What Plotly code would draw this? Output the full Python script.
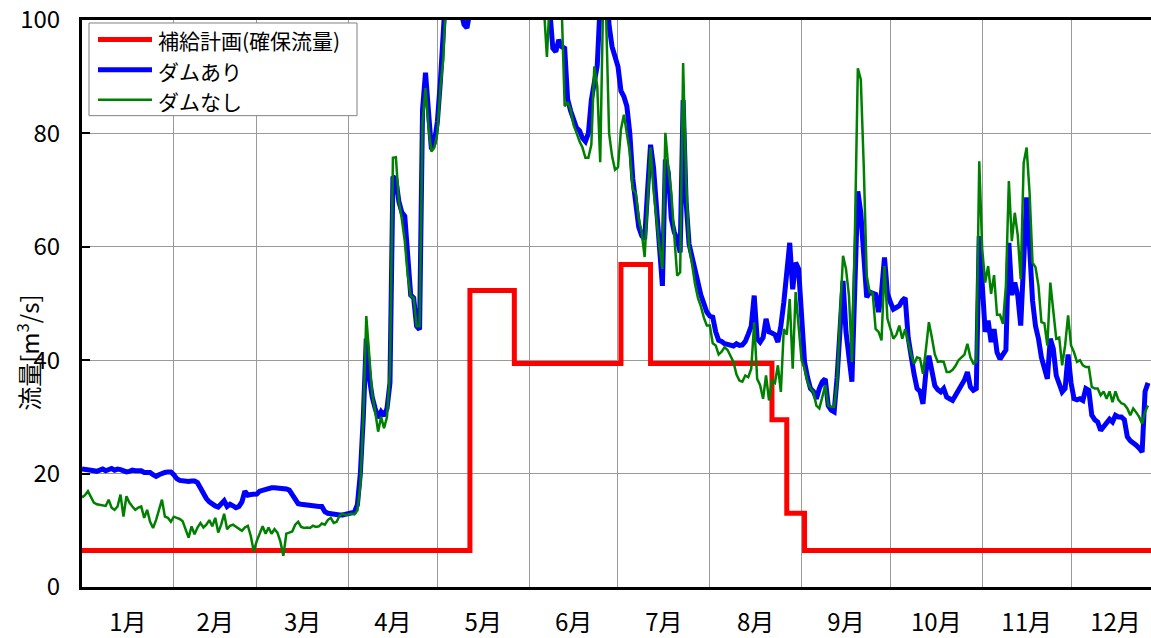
import pandas as pd
import plotly.graph_objects as go

# Daily flow [m3/s], day 0 = 1 Jan, one value per day up to day 360 (27 Dec)
flow_jan_with = [20.8, 20.8, 20.7, 20.6, 20.5, 20.4, 20.6, 20.8, 20.5, 20.7,
                 20.9, 20.6, 20.8, 20.7, 20.5, 20.3, 20.4, 20.6, 20.5, 20.6,
                 20.5, 20.2, 20.3, 20.2, 19.8, 19.5, 19.8, 20.1, 20.2, 20.3, 20.3]
flow_feb_with = [19.8, 19.1, 18.8, 18.7, 18.7, 18.6, 18.7, 18.7, 18.4, 17.5,
                 16.3, 15.6, 15.0, 14.6, 14.3, 14.1, 14.6, 15.2, 14.2, 14.6,
                 14.3, 14.0, 14.2, 15.0, 16.9, 16.2, 16.3, 16.4]
flow_mar_with = [16.4, 16.9, 17.1, 17.3, 17.4, 17.5, 17.5, 17.5, 17.5, 17.4,
                 17.3, 17.1, 16.2, 15.3, 14.7, 14.6, 14.5, 14.6, 14.4, 14.2,
                 14.3, 14.2, 14.2, 13.3, 13.0, 12.9, 12.8, 12.6, 12.7, 12.7, 12.8]
flow_apr_with = [12.8, 12.9, 13.2, 14.5, 20.0, 30.0, 43.8, 37.0, 33.5, 31.5,
                 29.8, 30.9, 30.2, 31.5, 36.0, 72.4, 71.9, 68.0, 66.1, 65.4,
                 59.0, 51.5, 51.0, 46.0, 45.4, 84.2, 90.7, 84.2, 77.2, 78.4]
flow_may_with = [82.0, 89.0, 102, 110, 118, 124, 118, 110, 101.5, 99.2,
                 98.6, 101.5, 110, 120, 128, 134, 128, 124, 120, 126,
                 132, 138, 130, 125, 120, 116, 122, 128, 130, 124, 118]
flow_jun_with = [118, 114, 116, 110, 106, 104, 103, 101.5, 95.0, 94.4,
                 96.5, 95.3, 95.0, 86.0, 84.0, 82.4, 81.0, 80.5, 79.2, 78.6,
                 80.0, 85.9, 89.5, 92.0, 103, 110, 106, 99.0, 95.3, 93.7]
flow_jul_with = [91.8, 87.5, 86.5, 84.8, 80.0, 72.0, 68.0, 63.5, 62.0, 61.3,
                 70.0, 78.0, 74.0, 66.0, 58.0, 53.1, 75.4, 73.1, 65.0, 62.6,
                 61.3, 59.0, 85.9, 68.0, 60.5, 58.0, 55.5, 54.0, 51.5, 50.0, 48.5]
flow_aug_with = [47.8, 47.6, 45.0, 43.5, 43.3, 42.9, 42.8, 42.6, 42.5, 42.9,
                 42.6, 42.7, 43.3, 44.6, 46.0, 51.4, 43.8, 43.2, 44.0, 47.3,
                 45.0, 44.8, 44.5, 43.2, 46.0, 50.2, 54.9, 60.7, 52.5, 57.2, 56.1]
flow_sep_with = [47.9, 39.7, 37.0, 35.0, 34.5, 33.2, 35.0, 36.2, 36.7, 32.0,
                 31.2, 30.9, 37.0, 45.0, 54.0, 45.0, 40.0, 36.2, 53.1, 69.8,
                 66.0, 56.6, 51.1, 52.0, 51.8, 51.6, 48.5, 52.0, 58.1, 51.8]
flow_oct_with = [50.2, 49.0, 49.3, 49.6, 50.5, 51.0, 44.0, 40.5, 37.5, 35.0,
                 34.5, 32.3, 38.0, 40.8, 38.5, 35.5, 34.8, 34.4, 35.0, 33.5,
                 33.2, 32.9, 33.8, 34.7, 35.3, 36.5, 37.9, 35.3, 34.7, 35.0, 61.9]
flow_nov_with = [52.0, 45.0, 47.0, 43.2, 45.5, 41.4, 40.2, 41.0, 41.8, 60.7,
                 51.5, 53.7, 51.4, 46.1, 58.4, 68.7, 60.0, 50.5, 46.0, 43.8,
                 40.5, 38.5, 36.7, 43.8, 42.0, 37.3, 35.5, 34.4, 35.0, 41.0]
flow_dec_with = [36.0, 33.2, 33.0, 33.2, 32.9, 35.0, 34.7, 30.3, 29.5, 29.1,
                 27.6, 28.3, 29.0, 29.6, 29.1, 30.3, 30.0, 30.0, 29.5, 26.5,
                 25.8, 25.5, 25.0, 24.5, 23.8, 34.5, 36.0]

flow_jan_without = [15.8, 16.2, 16.9, 15.8, 14.9, 14.6, 14.5, 14.5, 14.3, 15.4,
                    14.0, 13.6, 14.2, 16.3, 12.4, 16.0, 14.9, 14.2, 13.6, 14.0,
                    14.2, 12.2, 13.6, 11.5, 10.4, 11.8, 13.5, 15.4, 12.4, 12.2, 11.5]
flow_feb_without = [12.4, 12.2, 12.0, 11.6, 10.0, 8.7, 10.7, 9.3, 10.5, 11.3,
                    10.5, 11.0, 11.8, 10.7, 12.2, 9.6, 11.0, 12.9, 10.2, 10.8,
                    11.0, 10.6, 10.3, 9.9, 10.5, 10.8, 9.0, 6.3]
flow_mar_without = [8.1, 9.5, 10.7, 9.4, 10.5, 9.4, 10.2, 9.6, 8.0, 5.5,
                    9.4, 9.6, 9.8, 11.0, 11.5, 10.6, 10.4, 10.5, 10.4, 10.8,
                    10.6, 10.7, 11.2, 11.0, 11.8, 12.2, 11.3, 11.5, 12.6, 12.9, 12.7]
flow_apr_without = [12.8, 12.9, 12.8, 13.5, 18.0, 30.0, 47.8, 40.0, 34.0, 31.0,
                    27.4, 30.0, 28.0, 30.0, 38.0, 75.7, 75.8, 68.0, 64.9, 61.0,
                    55.0, 51.3, 51.0, 46.0, 46.0, 82.0, 88.0, 81.2, 76.8, 77.5]
flow_may_without = [80.0, 88.0, 93.0, 105, 118, 128, 120, 112, 106, 103,
                    104, 108, 116, 126, 134, 140, 132, 126, 122, 128,
                    135, 140, 132, 126, 121, 118, 124, 130, 132, 126, 120]
flow_jun_without = [118, 114, 116, 110, 106, 102, 93.5, 104, 108, 112,
                    106, 102, 84.8, 85.5, 84.2, 81.5, 80.1, 78.6, 77.5, 75.7,
                    75.7, 78.0, 91.8, 88.3, 74.9, 104, 100.5, 80.0, 76.0, 73.6]
flow_jul_without = [74.0, 80.7, 83.3, 80.0, 76.6, 70.1, 69.5, 65.0, 62.6, 58.2,
                    68.0, 77.5, 70.0, 64.3, 60.0, 56.1, 80.1, 74.0, 69.6, 62.0,
                    54.9, 55.5, 92.4, 72.0, 60.0, 57.0, 53.5, 51.0, 49.5, 47.5, 46.1]
flow_aug_without = [46.1, 43.0, 42.6, 41.0, 41.5, 42.3, 41.8, 40.8, 39.7, 37.5,
                    36.4, 36.2, 37.3, 37.0, 38.5, 46.7, 36.7, 35.6, 33.2, 37.3,
                    32.9, 36.4, 36.0, 39.1, 34.4, 45.5, 44.5, 50.8, 38.5, 52.0, 46.1]
flow_sep_without = [40.0, 38.5, 36.2, 35.0, 34.4, 32.0, 31.5, 33.5, 35.6, 32.0,
                    31.8, 31.8, 36.0, 48.0, 58.4, 56.1, 51.4, 39.7, 62.0, 91.5,
                    89.5, 74.2, 54.9, 52.0, 51.9, 45.5, 45.0, 43.5, 56.6, 47.3]
flow_oct_without = [45.5, 43.8, 44.5, 46.1, 43.8, 45.5, 43.2, 41.0, 39.4, 40.5,
                    40.3, 37.6, 42.0, 46.7, 44.0, 41.0, 39.7, 39.8, 39.7, 37.9,
                    37.9, 38.3, 39.0, 40.0, 40.5, 41.0, 42.9, 40.5, 39.4, 39.7, 75.1]
flow_nov_without = [59.6, 53.7, 56.6, 51.7, 55.0, 48.0, 48.0, 46.4, 53.1, 71.6,
                    61.0, 66.0, 62.0, 54.3, 74.8, 77.5, 69.5, 57.2, 56.4, 53.1,
                    46.7, 46.5, 42.6, 53.7, 48.5, 43.8, 44.0, 39.1, 42.6, 47.9]
flow_dec_without = [42.6, 41.4, 39.7, 40.0, 39.1, 38.8, 38.8, 35.3, 35.0, 35.0,
                    33.8, 34.5, 33.2, 34.5, 32.6, 34.5, 33.0, 32.4, 32.2, 31.5,
                    30.3, 31.5, 30.8, 30.0, 28.8, 30.9, 32.0]

# Supply plan (secured flow): step values starting on the given day
plan_days = [0, 131, 146, 182, 192, 233, 238, 244, 361]
plan_flow = [6.45, 52.3, 39.4, 56.9, 39.4, 29.5, 13.0, 6.45, 6.45]

month_order = ["jan", "feb", "mar", "apr", "may", "jun",
               "jul", "aug", "sep", "oct", "nov", "dec"]
flow_with = sum((globals()[f"flow_{m}_with"] for m in month_order), [])
flow_without = sum((globals()[f"flow_{m}_without"] for m in month_order), [])

start = pd.Timestamp("2021-01-01")
dates = start + pd.to_timedelta(range(len(flow_with)), unit="D")
plan_dates = start + pd.to_timedelta(plan_days, unit="D")

FONT = "Noto Sans CJK JP"
RED, BLUE, GREEN = "#ff0000", "#0000ff", "#008000"

fig = go.Figure()
fig.add_trace(go.Scatter(x=plan_dates, y=plan_flow, mode="lines", name="補給計画(確保流量)",
                         line=dict(color=RED, width=5, shape="hv"), showlegend=False))
fig.add_trace(go.Scatter(x=dates, y=flow_with, mode="lines", name="ダムあり",
                         line=dict(color=BLUE, width=5), showlegend=False))
fig.add_trace(go.Scatter(x=dates, y=flow_without, mode="lines", name="ダムなし",
                         line=dict(color=GREEN, width=2.5), showlegend=False))

W, H = 1151, 638
L, R, T, B = 82, 0, 20, 49
pw, ph = W - L - R, H - T - B


def px(x):
    return (x - L) / pw


def py(y):
    return (H - B - y) / ph


# Legend box drawn in paper coordinates
shapes = [dict(type="rect", xref="paper", yref="paper",
               x0=px(89), x1=px(357), y0=py(116), y1=py(23),
               line=dict(color="#808080", width=1), fillcolor="white", layer="above")]
annotations = []
legend_rows = [("補給計画(確保流量)", RED, 5, 39.5),
               ("ダムあり", BLUE, 5, 70),
               ("ダムなし", GREEN, 2.5, 100)]
for label, color, lw, yy in legend_rows:
    shapes.append(dict(type="line", xref="paper", yref="paper",
                       x0=px(98), x1=px(152), y0=py(yy), y1=py(yy),
                       line=dict(color=color, width=lw), layer="above"))
    annotations.append(dict(xref="paper", yref="paper", x=px(156), y=py(yy + 1),
                            text=label, showarrow=False, xanchor="left", yanchor="middle",
                            font=dict(family=FONT, size=21, color="black")))

annotations.append(dict(xref="paper", yref="paper", x=px(28), y=py(354),
                        text="流量[m<sup>3</sup>/s]", textangle=-90, showarrow=False,
                        xanchor="center", yanchor="middle",
                        font=dict(family=FONT, size=24, color="black")))

fig.update_layout(
    width=W, height=H,
    margin=dict(l=L, r=R, t=T, b=B, pad=0),
    paper_bgcolor="white", plot_bgcolor="white",
    font=dict(family=FONT, size=22, color="black"),
    shapes=shapes, annotations=annotations,
    showlegend=False,
)
fig.update_xaxes(
    type="date",
    range=[start, start + pd.Timedelta(days=361)],
    tick0="2021-01-01", dtick="M1", tickformat="%-m月", ticklabelmode="period",
    showgrid=True, gridcolor="#9a9a9a", gridwidth=1,
    ticks="", showline=True, linecolor="black", linewidth=2.5, mirror=True,
    tickfont=dict(family=FONT, size=24, color="black"),
    ticklabelstandoff=12,
)
fig.update_yaxes(
    range=[0, 100], dtick=20, tick0=0,
    showgrid=True, gridcolor="#9a9a9a", gridwidth=1, zeroline=False,
    ticks="inside", ticklen=8, tickwidth=2, tickcolor="black",
    showline=True, linecolor="black", linewidth=3,
    tickfont=dict(family=FONT, size=24, color="black"),
    ticklabelstandoff=14,
)

fig.write_html("out.html")
